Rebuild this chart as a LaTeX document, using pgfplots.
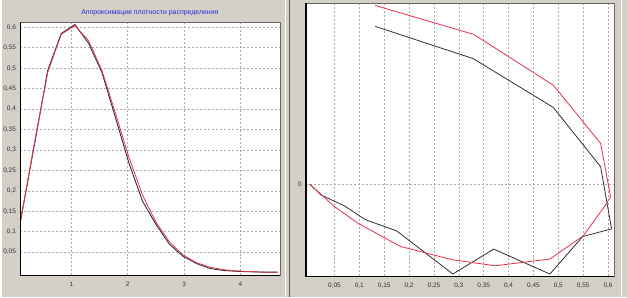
\documentclass[border=0pt]{standalone}
\usepackage{pgfplots}
\pgfplotsset{compat=1.18}
\usepackage{fontspec}
\setmainfont{Liberation Sans}
\definecolor{bg}{HTML}{D4D0C8}
\definecolor{gridc}{HTML}{A8A8A8}
\definecolor{redc}{HTML}{E8304A}
\definecolor{blk}{HTML}{303030}
\definecolor{titlec}{HTML}{2828E0}
\begin{document}
\begin{tikzpicture}[x=1bp,y=1bp]
\fill[bg] (0,0) rectangle (627,298);
\draw[white,line width=1bp] (284.5,0) -- (284.5,298);
\draw[gray!70!black,line width=1bp] (288.5,0) -- (288.5,298);
\draw[white,line width=1bp] (621.5,0) -- (621.5,298);
\node[text=titlec,font=\fontsize{7}{8}\selectfont] at (148,285.5) {Аппроксимация плотности распределения};
\pgfplotsset{
  common/.style={
    scale only axis, anchor=south west,
    axis background/.style={fill=white},
    axis line style={gray!80!black,line width=0.8bp},
    tick label style={text=black!80, font=\fontsize{6.5}{7}\selectfont, /pgf/number format/assume math mode=true, /pgf/number format/use comma},
    major tick length=0pt,
    grid=major,
    major grid style={gridc, line width=0.6bp, dash pattern=on 2bp off 2bp},
    xticklabel style={yshift=-3bp},
    yticklabel style={xshift=-1bp},
    clip=true,
    after end axis/.code={
      \draw[black,line width=1.6bp] (rel axis cs:0,1) -- (rel axis cs:0,0) -- (rel axis cs:1,0);
    },
  }
}
\begin{axis}[common, at={(18bp,22bp)}, width=261bp, height=254bp,
  xmin=0.094, xmax=4.707, ymin=-0.007, ymax=0.612,
  xtick={1,2,3,4},
  ytick={0.05,0.1,0.15,0.2,0.25,0.3,0.35,0.4,0.45,0.5,0.55,0.6},
  yticklabel style={/pgf/number format/fixed, /pgf/number format/precision=2},
]
\addplot[blk, line width=0.9bp] coordinates {
(0.10,0.128) (0.34,0.31) (0.58,0.495) (0.82,0.585) (1.06,0.607) (1.30,0.562)
(1.54,0.49) (1.78,0.38) (2.02,0.268) (2.26,0.175) (2.50,0.118) (2.74,0.069)
(2.98,0.040) (3.22,0.022) (3.46,0.010) (3.70,0.005) (3.94,0.003) (4.18,0.002)
(4.42,0.001) (4.66,0.001)};
\addplot[redc, line width=0.8bp] coordinates {
(0.10,0.128) (0.34,0.315) (0.58,0.49) (0.82,0.583) (1.06,0.604) (1.30,0.568)
(1.54,0.495) (1.78,0.39) (2.02,0.282) (2.26,0.19) (2.50,0.123) (2.74,0.075)
(2.98,0.043) (3.22,0.024) (3.46,0.013) (3.70,0.007) (3.94,0.004) (4.18,0.002)
(4.42,0.001) (4.66,0.001)};
\end{axis}
\begin{axis}[common, at={(305bp,21bp)}, width=309bp, height=274bp,
  xmin=-0.0067, xmax=0.612, ymin=-0.927, ymax=1.81,
  xtick={0.05,0.1,0.15,0.2,0.25,0.3,0.35,0.4,0.45,0.5,0.55,0.6},
  xticklabel style={/pgf/number format/fixed, /pgf/number format/precision=2},
  ytick={0}, yticklabels={0},
]
\addplot[blk, line width=0.8bp] coordinates {
(0.132,1.58) (0.329,1.257) (0.49,0.767) (0.585,0.173) (0.607,-0.45)
(0.549,-0.527) (0.483,-0.903) (0.37,-0.653) (0.288,-0.903) (0.175,-0.47)
(0.113,-0.36) (0.07,-0.22) (0.023,-0.11) (0,0)};
\addplot[redc, line width=0.8bp] coordinates {
(0.132,1.79) (0.33,1.5) (0.49,0.99) (0.585,0.407) (0.605,-0.127)
(0.595,-0.21) (0.55,-0.52) (0.483,-0.753) (0.373,-0.82) (0.287,-0.76)
(0.183,-0.627) (0.097,-0.393) (0.05,-0.227) (0,0)};
\end{axis}
\end{tikzpicture}
\end{document}
